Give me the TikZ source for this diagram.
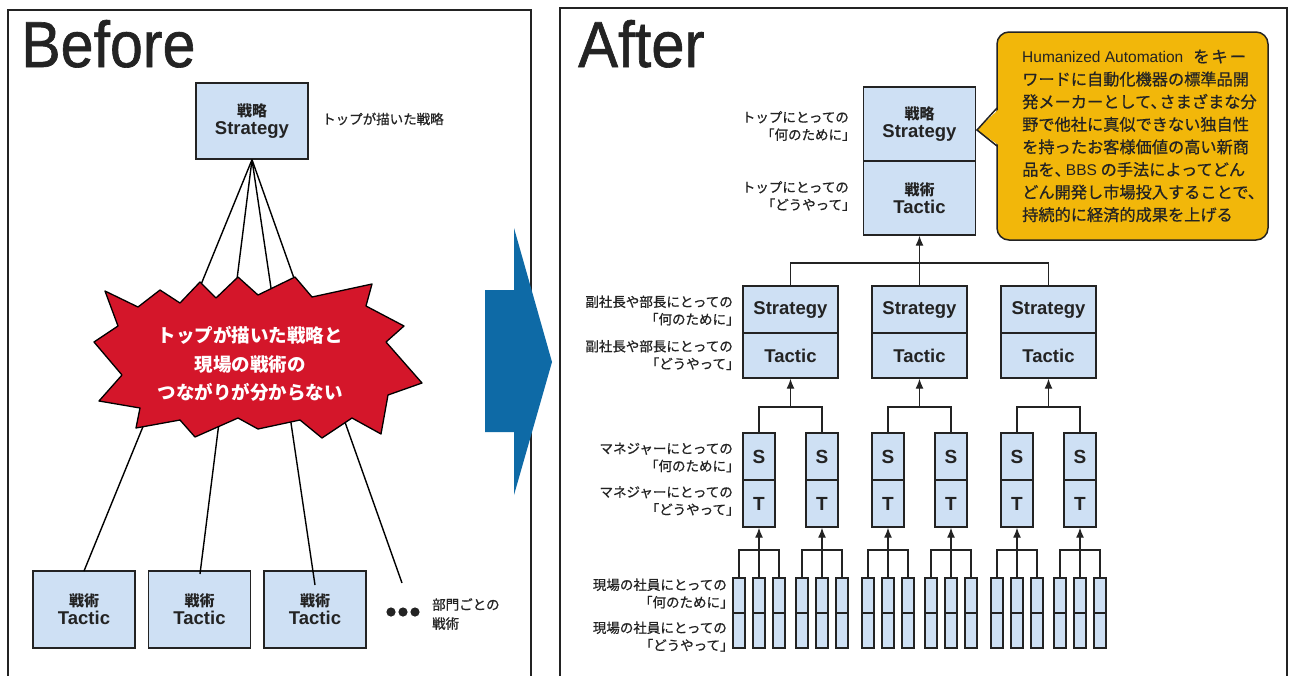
\documentclass[tikz,border=0pt]{standalone}
\usepackage{fontspec}
\usepackage{graphicx}
\setmainfont{Liberation Sans}
\newfontfamily\jp{Noto Sans CJK JP}
\newfontfamily\jpm[FakeBold=0.7]{Noto Sans CJK JP}
\newfontfamily\ttl[FakeBold=1.0]{Liberation Sans}
\usetikzlibrary{arrows.meta}
\definecolor{boxblue}{RGB}{206,224,244}
\definecolor{burstred}{RGB}{212,22,42}
\definecolor{calloutyel}{RGB}{242,183,10}
\definecolor{arrowblue}{RGB}{14,106,166}
\definecolor{ink}{RGB}{35,35,35}
\newcommand\bt[2]{{\jp\bfseries\fontsize{15}{18}\selectfont #1}\\{\bfseries\fontsize{18.5}{18}\selectfont #2}}
\newcommand\bl[1]{{\bfseries\fontsize{18.5}{18}\selectfont #1}}
\newcommand\bs[1]{{\bfseries\fontsize{19}{18}\selectfont #1}}
\newcommand\lat[1]{{\rmfamily\fontsize{15.5}{22.6}\selectfont #1}}
\begin{document}
\begin{tikzpicture}[x=1pt,y=-1pt,
  bx/.style={draw=ink, line width=1.4pt, fill=boxblue, inner sep=0pt, text=ink, align=center, font=\fontsize{15}{18}\selectfont},
  con/.style={draw=ink, line width=1.3pt},
  arr/.style={con, -{Latex[length=10pt,width=8pt]}},
  lbl/.style={font=\jpm\fontsize{13.5}{17.5}\selectfont, text=ink, align=right, anchor=east, inner sep=0pt},
  frame/.style={draw=ink, line width=1.8pt},
  title/.style={font=\ttl\fontsize{65}{65}\selectfont, text=ink, anchor=base west, inner sep=0pt}
]
\useasboundingbox (0,0) rectangle (1290,675);
\fill[white] (0,0) rectangle (1290,675);

% ---------------- Before panel ----------------
\draw[frame] (8,680) -- (8,10) -- (531,10) -- (531,680);
\node[title] (before) at (21,67) {\scalebox{0.91}[1]{Before}};

\node[bx, minimum width=112pt, minimum height=76pt] (ls) at (252,121) {\bt{戦略}{Strategy}};
\node[font=\jpm\fontsize{13.5}{13.5}\selectfont, text=ink, anchor=west, inner sep=0pt] (lslbl) at (322,119) {トップが描いた戦略};

\node[bx, minimum width=102pt, minimum height=77pt] (lt1) at (84,609.5) {\bt{戦術}{Tactic}};
\node[bx, minimum width=102pt, minimum height=77pt] (lt2) at (199.5,609.5) {\bt{戦術}{Tactic}};
\node[bx, minimum width=102pt, minimum height=77pt] (lt3) at (315,609.5) {\bt{戦術}{Tactic}};

\coordinate (e1) at (84,571);
\coordinate (e2) at (200,574);
\coordinate (e3) at (315,585);
\coordinate (e4) at (402,583);
\foreach \e in {e1,e2,e3,e4} \draw[black, line width=1.4pt] (ls.south) -- (\e);

\foreach \x in {391,403,415} \fill[ink] (\x,612) circle (4.6pt);
\node[font=\jpm\fontsize{13.5}{19}\selectfont, text=ink, align=left, anchor=west, inner sep=0pt] (dots) at (432,614) {部門ごとの\\戦術};

% starburst
\filldraw[fill=burstred, draw=black, line width=1.3pt, line join=round]
 (105,291) -- (138,307) -- (160,290) -- (180,303) -- (200,282) -- (216,298) -- (238,277) -- (258,295)
 -- (295,277) -- (312,297) -- (372,284) -- (366,306) -- (404,326) -- (386,342) -- (422,383) -- (388,395)
 -- (381,434) -- (352,418) -- (322,438) -- (300,420) -- (258,429) -- (238,418) -- (195,437) -- (180,420)
 -- (136,428) -- (140,408) -- (99,401) -- (122,375) -- (94,342) -- (118,326) -- cycle;
\node[font=\jp\bfseries\fontsize{18.5}{28.5}\selectfont, text=white, align=center, inner sep=0pt] (burst) at (250,364)
  {トップが描いた戦略と\\現場の戦術の\\つながりが分からない};

% big arrow
\fill[arrowblue] (485,290) -- (514,290) -- (514,228) -- (552,362) -- (514,495) -- (514,432) -- (485,432) -- cycle;

% ---------------- After panel ----------------
\draw[frame] (560,680) -- (560,8) -- (1287,8) -- (1287,680);
\node[title] (after) at (578,67) {\scalebox{0.92}[1]{After}};

% top box
\node[bx, minimum width=112pt, minimum height=74pt] (ts) at (919.5,124) {\bt{戦略}{Strategy}};
\node[bx, minimum width=112pt, minimum height=74pt] (tt) at (919.5,198) {\bt{戦術}{Tactic}};
\node[lbl] (lb1) at (849,126) {トップにとっての\\「何のために」\kern-.5em};
\node[lbl] (lb2) at (849,196) {トップにとっての\\「どうやって」\kern-.5em};

% callout
\node[draw=ink, line width=1.5pt, fill=calloutyel, rounded corners=12pt, minimum width=271pt, minimum height=208pt, inner sep=0pt] (call) at (1132.5,136) {};
\fill[calloutyel] (1000,108) -- (977,130) -- (1000,146) -- cycle;
\draw[ink, line width=1.5pt] (997,108) -- (977,130) -- (997,146);
\node[font=\jpm\fontsize{16.2}{22.6}\selectfont, text=ink, align=left, anchor=west, inner sep=0pt] (calltxt) at (1022,136)
 {\lat{Humanized Automation}\hspace{10pt}を\hspace{2pt}キ\hspace{2pt}ー\\
  ワードに自動化機器の標準品開\\
  発メーカーとして、\kern-.45em さまざまな分\\
  野で他社に真似できない独自性\\
  を持ったお客様価値の高い新商\\
  品を、\kern-.3em\lat{BBS} の手法によってどん\\
  どん開発し市場投入することで、\\
  持続的に経済的成果を上げる};

% level labels
\node[lbl] (lb3) at (733,310.5) {副社長や部長にとっての\\「何のために」\kern-.5em};
\node[lbl] (lb4) at (733,355) {副社長や部長にとっての\\「どうやって」\kern-.5em};
\node[lbl] (lb5) at (733,457.5) {マネジャーにとっての\\「何のために」\kern-.5em};
\node[lbl] (lb6) at (733,501) {マネジャーにとっての\\「どうやって」\kern-.5em};
\node[lbl] (lb7) at (727,593.5) {現場の社員にとっての\\「何のために」\kern-.5em};
\node[lbl] (lb8) at (727,636.5) {現場の社員にとっての\\「どうやって」\kern-.5em};

% level 2 / 3 / 4 boxes
\foreach \i in {0,1,2} {
  \pgfmathsetmacro{\C}{790.5+129*\i}
  \node[bx, minimum width=95pt, minimum height=47pt] (l2s-\i) at (\C,309.5) {\bl{Strategy}};
  \node[bx, minimum width=95pt, minimum height=45pt] (l2t-\i) at (\C,355.5) {\bl{Tactic}};
  \foreach \j/\d in {1/-31.5,2/31.5} {
    \pgfmathsetmacro{\c}{\C+\d}
    \node[bx, minimum width=32pt, minimum height=47pt] (s-\i-\j) at (\c,456.5) {\bs{S}};
    \node[bx, minimum width=32pt, minimum height=47pt] (t-\i-\j) at (\c,503.5) {\bs{T}};
    \foreach \k/\e in {1/-20,2/0,3/20} {
      \node[bx, minimum width=12pt, minimum height=35pt] (wa-\i-\j-\k) at (\c+\e,595.5) {};
      \node[bx, minimum width=12pt, minimum height=35pt] (wb-\i-\j-\k) at (\c+\e,630.5) {};
    }
    \coordinate (b4-\i-\j) at (\c,550);
    \draw[con] (wa-\i-\j-1.north) |- (b4-\i-\j) -| (wa-\i-\j-3.north);
    \draw[arr] (wa-\i-\j-2.north) -- (t-\i-\j.south);
  }
  \coordinate (b3-\i) at (\C,407);
  \draw[con] (s-\i-1.north) |- (b3-\i) -| (s-\i-2.north);
  \draw[arr] (b3-\i) -- (l2t-\i.south);
}
\coordinate (b2) at (919.5,263);
\draw[con] (l2s-0.north) |- (b2) -| (l2s-2.north);
\draw[arr] (l2s-1.north) -- (tt.south);
\end{tikzpicture}
\end{document}
